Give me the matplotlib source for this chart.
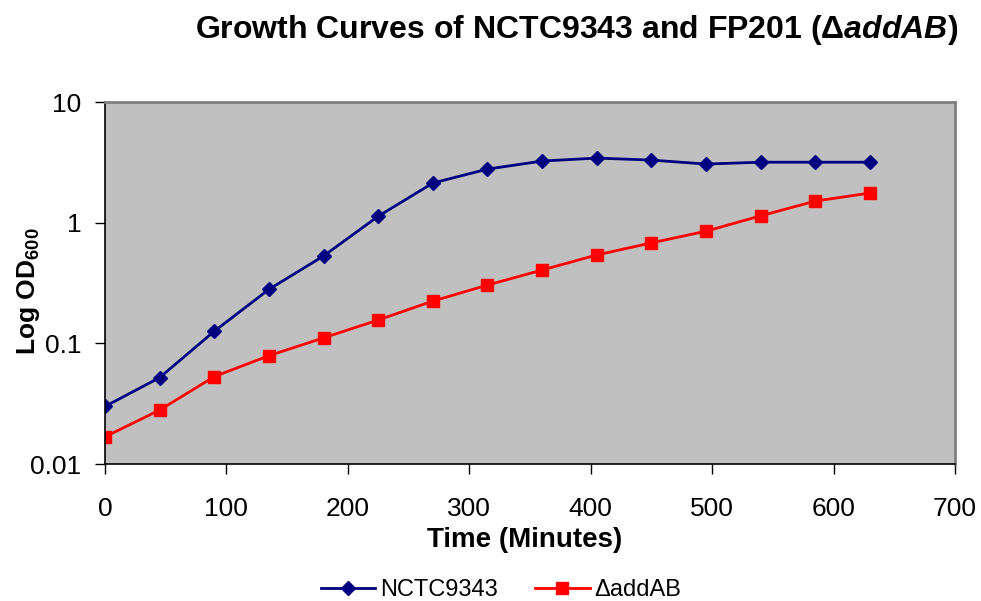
import numpy as np
import matplotlib
matplotlib.use("Agg")
import matplotlib.pyplot as plt
from matplotlib.ticker import FixedLocator, FixedFormatter, NullLocator

# Time points (minutes)
time_min = [0, 45, 90, 135, 180, 225, 270, 315, 360, 405, 450, 495, 540, 585, 630]

# OD600 readings
od_nctc = [0.030, 0.052, 0.126, 0.28, 0.53, 1.13, 2.13, 2.78, 3.24, 3.43,
           3.30, 3.06, 3.17, 3.17, 3.17]
od_addab = [0.0168, 0.028, 0.053, 0.079, 0.111, 0.156, 0.224, 0.304, 0.405,
            0.54, 0.68, 0.85, 1.14, 1.51, 1.76]

series_names = ["NCTC9343", "\u0394addAB"]
y_ticks = [0.01, 0.1, 1, 10]
y_tick_labels = ["0.01", "0.1", "1", "10"]

plt.rcParams['font.family'] = ['Liberation Sans', 'DejaVu Sans']
plt.rcParams['mathtext.fontset'] = 'custom'
plt.rcParams['mathtext.rm'] = 'Liberation Sans'
plt.rcParams['mathtext.bf'] = 'Liberation Sans:bold'
plt.rcParams['mathtext.bfit'] = 'Liberation Sans:italic:bold'

W, H = 981, 601
fig = plt.figure(figsize=(W / 100, H / 100), dpi=100)
ax = fig.add_axes([105 / W, 1 - 464 / H, (955 - 105) / W, (464 - 102) / H])
ax.set_facecolor('#c0c0c0')

ax.plot(time_min, od_nctc, color='#000080', lw=2, marker='D', ms=7,
        label=series_names[0])
ax.plot(time_min, od_addab, color='#ff0000', lw=2, marker='s', ms=8,
        label=series_names[1])

ax.set_yscale('log')
ax.set_ylim(0.01, 10)
ax.set_xlim(0, 700)
ax.yaxis.set_major_locator(FixedLocator(y_ticks))
ax.yaxis.set_major_formatter(FixedFormatter(y_tick_labels))
ax.yaxis.set_minor_locator(NullLocator())
ax.set_xticks(range(0, 701, 100))

ax.tick_params(axis='both', direction='out', length=7, width=1,
               labelsize=19, colors='black')
ax.tick_params(axis='x', pad=17)
ax.tick_params(axis='y', pad=10)

for side in ['left', 'bottom']:
    ax.spines[side].set_color('black')
    ax.spines[side].set_linewidth(1.2)
for side in ['top', 'right']:
    ax.spines[side].set_color('#808080')
    ax.spines[side].set_linewidth(2)

ax.set_xlabel("Time (Minutes)", fontsize=20, fontweight='bold')
ax.xaxis.set_label_coords(525 / W, 1 - 527 / H, transform=fig.transFigure)
ax.set_ylabel("Log OD$_{\\mathbf{600}}$", fontsize=19, fontweight='bold')
ax.yaxis.set_label_coords(42 / W, 1 - 291 / H, transform=fig.transFigure)

fig.text(577 / W, 1 - 30 / H,
         "Growth Curves of NCTC9343 and FP201 (\u0394$\\mathbfit{addAB}$)",
         ha='center', va='center', fontsize=23, fontweight='bold')

fig.legend(loc='center', bbox_to_anchor=(501 / W, 1 - 590 / H), ncol=2,
           frameon=False, fontsize=17, handlelength=2.3, columnspacing=1.6,
           handletextpad=0.2)

fig.savefig("out.png", dpi=100)
